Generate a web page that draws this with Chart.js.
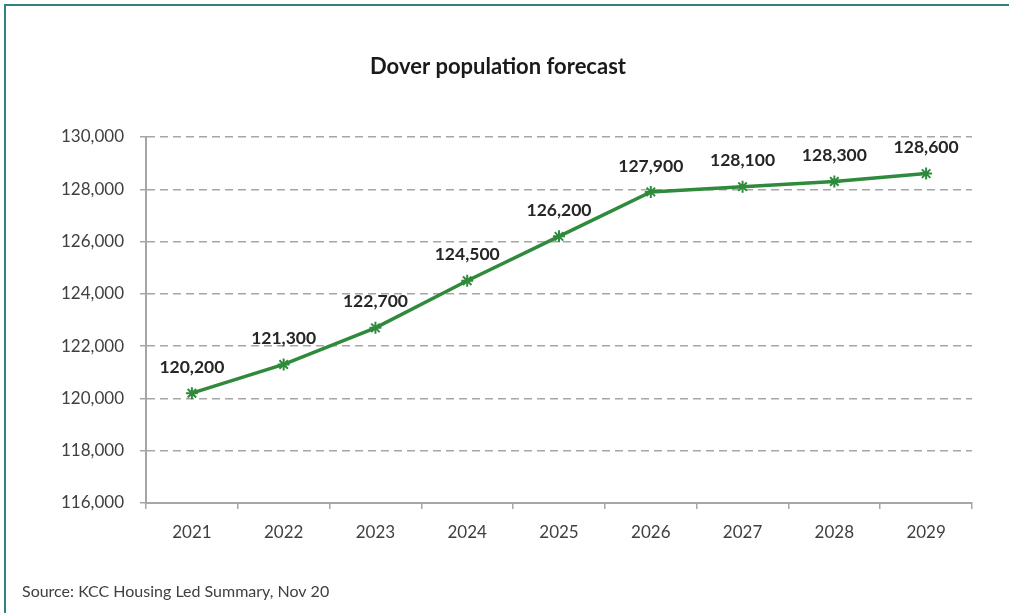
<!DOCTYPE html>
<html>
<head>
<meta charset="utf-8">
<script src="https://cdn.jsdelivr.net/npm/chart.js@4/dist/chart.umd.min.js"></script>
<style>
html,body{margin:0;padding:0;background:#fff;}
#wrap{position:relative;width:1009px;height:613px;}
canvas{display:block;}
</style>
</head>
<body>
<div id="wrap"><canvas id="c" width="1009" height="613"></canvas></div>
<script>
const categories = ['2021','2022','2023','2024','2025','2026','2027','2028','2029'];
const population = [120200,121300,122700,124500,126200,127900,128100,128300,128600];
const yMin = 116000, yMax = 130000, yStep = 2000;
const titleText = 'Dover population forecast';
const sourceText = 'Source: KCC Housing Led Summary, Nov 20';

const FONT = 'Lato, "Liberation Sans", sans-serif';

const decor = {
  id: 'decor',
  beforeDraw(chart) {
    const ctx = chart.ctx;
    ctx.save();
    ctx.fillStyle = '#ffffff';
    ctx.fillRect(0, 0, chart.width, chart.height);
    ctx.fillStyle = '#31817f';
    ctx.fillRect(4, 4, chart.width - 4, 2);
    ctx.fillRect(4, 4, 2, chart.height - 4);
    ctx.restore();
  },
  afterDraw(chart) {
    const ctx = chart.ctx;
    ctx.save();
    ctx.fillStyle = '#1a1a1a';
    ctx.font = 'bold 22px ' + FONT;
    ctx.textAlign = 'center';
    ctx.textBaseline = 'middle';
    ctx.fillText(titleText, 498, 67);
    ctx.fillStyle = '#404040';
    ctx.font = '16px ' + FONT;
    ctx.textAlign = 'left';
    ctx.fillText(sourceText, 22, 592);
    // value labels
    const meta = chart.getDatasetMeta(0);
    ctx.fillStyle = '#262626';
    ctx.font = 'bold 17.5px ' + FONT;
    ctx.textAlign = 'center';
    meta.data.forEach((pt, i) => {
      ctx.fillText(population[i].toLocaleString('en-GB'), pt.x, pt.y - 26);
    });
    ctx.restore();
  }
};

new Chart(document.getElementById('c'), {
  type: 'line',
  data: {
    labels: categories,
    datasets: [{
      data: population,
      borderColor: '#2f8a3c',
      backgroundColor: '#2f8a3c',
      borderWidth: 3.5,
      pointStyle: 'star',
      pointRadius: 6,
      pointBorderWidth: 2,
      pointBorderColor: '#2f8a3c',
      tension: 0,
      fill: false
    }]
  },
  plugins: [decor],
  options: {
    responsive: false,
    animation: false,
    devicePixelRatio: 1,
    layout: { padding: { left: 0, top: 137, right: 37, bottom: 0 } },
    plugins: { legend: { display: false }, title: { display: false }, tooltip: { enabled: false } },
    scales: {
      x: {
        offset: true,
        afterFit(s) { s.height = 110; },
        grid: { offset: true, drawOnChartArea: false, drawTicks: true, tickLength: 6, color: '#a6a6a6', lineWidth: 1.5 },
        border: { display: true, color: '#a6a6a6', width: 2 },
        ticks: { color: '#404040', font: { family: FONT, size: 17 }, padding: 13 }
      },
      y: {
        min: yMin, max: yMax,
        afterFit(s) { s.width = 146; },
        ticks: {
          stepSize: yStep, color: '#404040', font: { family: FONT, size: 17 }, padding: 16,
          callback: v => v.toLocaleString('en-GB')
        },
        grid: { color: '#a6a6a6', lineWidth: 1.5, tickLength: 6, tickBorderDash: [], tickColor: '#a6a6a6' },
        border: { display: true, color: '#a6a6a6', width: 2, dash: [8, 5] }
      }
    }
  }
});
</script>
</body>
</html>
